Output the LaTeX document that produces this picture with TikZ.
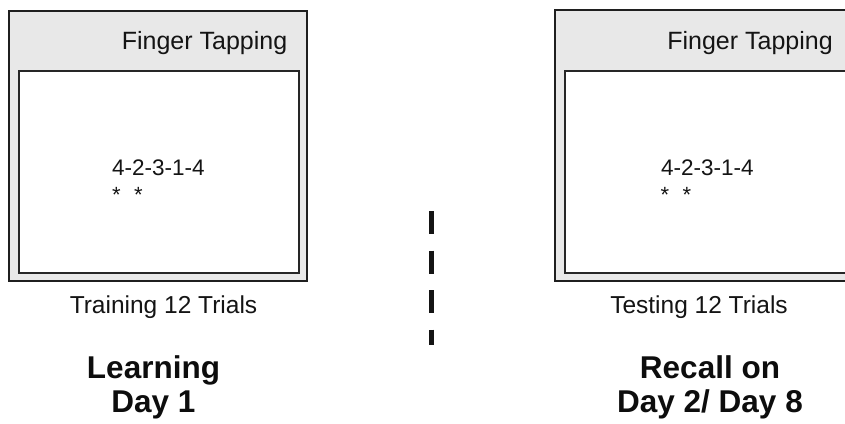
\documentclass[tikz,border=0pt]{standalone}
\usepackage{fontspec}
\setmainfont{Liberation Sans}
\begin{document}
\begin{tikzpicture}[x=1pt,y=-1pt,
  outerbox/.style={draw=black!88,line width=2pt,fill=black!9},
  innerbox/.style={draw=black!85,line width=1.8pt,fill=white},
  title/.style={font=\fontsize{25}{29}\selectfont,anchor=base,inner sep=0pt,text=black!92},
  seq/.style={font=\fontsize{22.5}{26}\selectfont,anchor=base west,inner sep=0pt,text=black!92},
  star/.style={font=\fontsize{22}{26}\selectfont,anchor=base,inner sep=0pt,text=black!92},
  caption/.style={font=\fontsize{24.5}{28}\selectfont,anchor=base,inner sep=0pt,text=black!92},
  phase/.style={font=\bfseries\fontsize{31.5}{35}\selectfont,anchor=base,inner sep=0pt,align=center,text=black!95},
  divider/.style={line width=5pt,draw=black!92,dash pattern=on 23pt off 16.5pt}]
\clip (0,0) rectangle (845,423);
\fill[white] (0,0) rectangle (845,423);
% left panel
\draw[outerbox] (9,11) rectangle (307,281);
\draw[innerbox] (19,71) rectangle (299,273);
\node[title] (ftL) at (204.5,49) {Finger Tapping};
\node[seq] (seqL) at (112,175) {4-2-3-1-4};
\node[star] (sL1) at (116.5,202) {*};
\node[star] (sL2) at (138.5,202) {*};
\node[caption] (capL) at (163.5,313) {Training 12 Trials};
\node[phase] (phL1) at (153.5,378) {Learning};
\node[phase] (phL2) at (153.5,412) {Day 1};
% right panel
\draw[outerbox] (555,10) rectangle (853,281);
\draw[innerbox] (565,71) rectangle (860,273);
\node[title] (ftR) at (750,49) {Finger Tapping};
\node[seq] (seqR) at (661,175) {4-2-3-1-4};
\node[star] (sR1) at (665,202) {*};
\node[star] (sR2) at (687,202) {*};
\node[caption] (capR) at (699,313) {Testing 12 Trials};
\node[phase] (phR1) at (710,378) {Recall on};
\node[phase] (phR2) at (710,412) {Day 2/ Day 8};
% divider
\coordinate (dTop) at (431,211);
\coordinate (dBot) at (431,345);
\draw[divider] (dTop) -- (dBot);
\end{tikzpicture}
\end{document}
